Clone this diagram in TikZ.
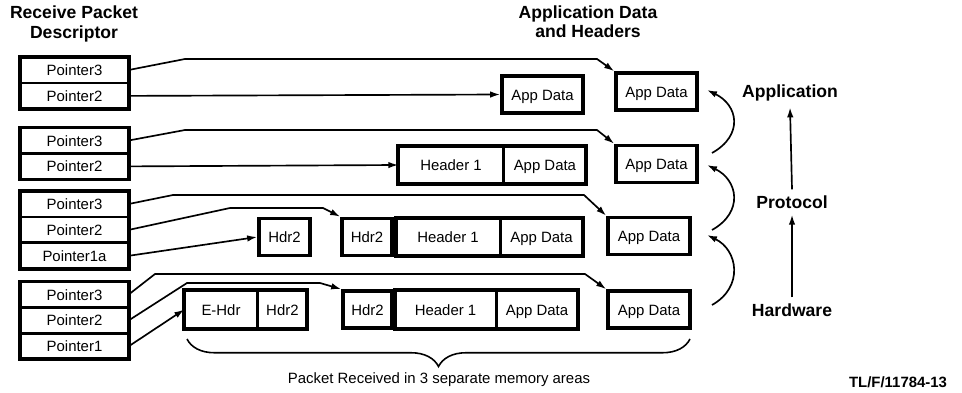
\documentclass[tikz,border=0pt]{standalone}
\usepackage{fontspec}
\setmainfont{Liberation Sans}
\usetikzlibrary{positioning,arrows.meta,decorations.pathreplacing}

\newcommand{\boxfont}{\fontsize{8.5}{10}\selectfont}

\begin{document}
\begin{tikzpicture}[x=2mm, y=-2mm,
    cell/.style={draw, line width=0.8pt, minimum height=4.9mm, inner sep=0pt,
        text height=1.6ex, text depth=0.4ex, font=\boxfont},
    ptr/.style={cell, minimum width=21.4mm},
    mem/.style={cell, minimum height=7.4mm},
    single/.style={mem, line width=2.1pt},
    frame/.style={line width=2.1pt},
    link/.style={line width=0.95pt, -{Latex[length=2mm,width=1.3mm]}},
    title/.style={font=\bfseries\fontsize{10}{11}\selectfont, align=center}]
    \useasboundingbox (0,0) rectangle (96.2,39.3);

    \draw (7.4,2.4) node[title] (rh) {Receive Packet\\Descriptor};
    \draw (58.8,2.2) node[title] (ah) {Application Data\\and Headers};

    % receive packet descriptors
    \node[ptr] (p13) at (7.45,7.0) {Pointer3};
    \node[ptr, below=0pt of p13] (p12) {Pointer2};
    \draw[frame] (p13.north west) rectangle (p12.south east);

    \node[ptr] (p23) at (7.45,14.05) {Pointer3};
    \node[ptr, below=0pt of p23] (p22) {Pointer2};
    \draw[frame] (p23.north west) rectangle (p22.south east);

    \node[ptr] (p33) at (7.45,20.4) {Pointer3};
    \node[ptr, below=0pt of p33] (p32) {Pointer2};
    \node[ptr, below=0pt of p32] (p31) {Pointer1a};
    \draw[frame] (p33.north west) rectangle (p31.south east);

    \node[ptr] (p43) at (7.45,29.45) {Pointer3};
    \node[ptr, below=0pt of p43] (p42) {Pointer2};
    \node[ptr, below=0pt of p42] (p41) {Pointer1};
    \draw[frame] (p43.north west) rectangle (p41.south east);

    % memory areas
    \node[single, minimum width=16.2mm] (m1) at (54.25,9.45) {App Data};
    \node[single, minimum width=16.2mm] (r1) at (65.65,9.15) {App Data};

    \node[mem, minimum width=20.8mm] (h2) at (45.1,16.5) {Header 1};
    \node[mem, minimum width=16.2mm, right=0pt of h2] (a2) {App Data};
    \draw[frame] (h2.north west) rectangle (a2.south east);
    \node[single, minimum width=16.2mm] (r2) at (65.65,16.4) {App Data};

    \node[single, minimum width=10.2mm] (s3) at (28.45,23.7) {Hdr2};
    \node[single, minimum width=10mm] (hb3) at (36.7,23.7) {Hdr2};
    \node[mem, minimum width=20.6mm, right=0.4mm of hb3] (h3) {Header 1};
    \node[mem, minimum width=16.2mm, right=0pt of h3] (a3) {App Data};
    \draw[frame] (h3.north west) rectangle (a3.south east);
    \node[single, minimum width=16.4mm] (r3) at (64.9,23.6) {App Data};

    \node[mem, minimum width=14.4mm] (e4) at (22.1,30.95) {E-Hdr};
    \node[mem, minimum width=9.6mm, right=0pt of e4] (d4) {Hdr2};
    \draw[frame] (e4.north west) rectangle (d4.south east);
    \node[single, minimum width=9.8mm] (hb4) at (36.75,30.95) {Hdr2};
    \node[mem, minimum width=20mm, right=0.2mm of hb4] (h4) {Header 1};
    \node[mem, minimum width=16mm, right=0pt of h4] (a4) {App Data};
    \draw[frame] (h4.north west) rectangle (a4.south east);
    \node[single, minimum width=16.4mm] (r4) at (64.9,30.95) {App Data};

    % pointers
    \draw[link] (p13.east) -- (18.5,5.9) -- (59.7,5.9) -- (r1.north west);
    \draw[link] (p12.east) -- (m1.west);
    \draw[link] (p23.east) -- (18.5,13.0) -- (59.7,13.0) -- (r2.north west);
    \draw[link] (p22.east) -- (h2.west);
    \draw[link] (p33.east) -- (17.3,19.5) -- (58.4,19.5) -- (r3.north west);
    \draw[link] (p32.east) -- (23.0,20.8) -- (32.3,20.8) -- (hb3.north west);
    \draw[link] (p31.east) -- (s3.west);
    \draw[link] (p43.east) -- (15.5,27.4) -- (58.5,27.4) -- (r4.north west);
    \draw[link] (p42.east) -- (18.7,28.3) -- (32.0,28.3) -- (hb4.north west);
    \draw[link] (p41.east) -- (e4.west);

    % layers
    \foreach \s/\e [count=\i] in {15.3/9.0, 23.0/16.5, 30.5/23.5} {
        \coordinate (cs\i) at (71.2,\s);
        \coordinate (ce\i) at (70.7,\e);
        \draw[link] (cs\i) .. controls +(3.2,-1.8) and +(3.1,1.5) .. (ce\i);
    }
    \draw (79.0,9.3) node[title] (ap) {Application};
    \draw (79.2,20.2) node[title] (pr) {Protocol};
    \draw (79.2,31.0) node[title] (hw) {Hardware};
    \draw[link] (hw.north) -- (pr.south);
    \draw[link] (pr.north) -- (ap.south);

    \coordinate (bl) at (18.7,33.9);
    \coordinate (br) at (69.0,33.9);
    \draw[line width=0.9pt, decorate, decoration={brace, mirror, amplitude=5.5mm}] (bl) -- (br);
    \draw (43.9,38.0) node[font=\boxfont] (pk) {Packet Received in 3 separate memory areas};
    \draw (89.8,38.2) node[font=\bfseries\fontsize{8.5}{9}\selectfont] (tl) {TL/F/11784-13};
\end{tikzpicture}
\end{document}
